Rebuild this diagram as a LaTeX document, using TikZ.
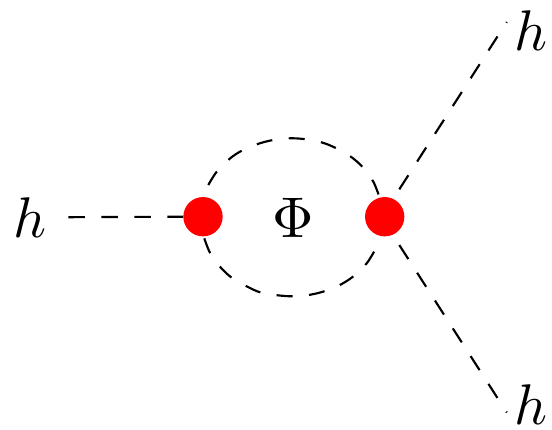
\documentclass[tikz,border=0pt]{standalone}
\tikzset{
  vtx/.style={circle,fill=red,draw=none,minimum size=29.5pt,inner sep=0pt},
  lab/.style={inner sep=0pt,scale=4.3},
  scal/.style={black,line width=1.6pt,dash pattern=on 12.5pt off 12.25pt},
  loopline/.style={black,line width=1.6pt,dash pattern=on 12pt off 12.4pt},
}
\begin{document}
\begin{tikzpicture}[x=0.75pt,y=-0.75pt]
\useasboundingbox (0,0) rectangle (552,429);
\node[lab] (h1) at (30,218) {$h$};
\node[lab] (h2) at (531,31) {$h$};
\node[lab] (h3) at (531,404.5) {$h$};
\node[lab] (phi) at (293.5,217.5) {$\Phi$};
\coordinate (a) at (68.3,217.2);
\coordinate (b) at (506.8,22);
\coordinate (c) at (506.8,412.5);
\coordinate (bs) at (399.3,189.3);
\coordinate (cs) at (399.3,245);
\coordinate (ua) at (208.3,185);
\coordinate (ub) at (379.3,196.7);
\coordinate (la) at (204.3,238.3);
\coordinate (lb) at (375,250);
\node[vtx] (v1) at (203,216.7) {};
\node[vtx] (v2) at (384.7,216.7) {};
\draw[scal] (a) -- (v1.west);
\draw[scal] (bs) -- (b);
\draw[scal] (cs) -- (c);
\draw[loopline] plot[smooth,tension=0.6] coordinates {(ua) (216.7,171.7) (229,159.3) (241.7,150.7) (257.7,144) (273.3,140) (290,138.3) (306,139.3) (322.7,142.7) (337.7,149) (351.7,157.3) (363.7,168.3) (373.3,181.7) (ub)};
\draw[loopline] plot[smooth,tension=0.6] coordinates {(la) (210,252.7) (220,266.7) (231.7,277.7) (246,286) (261.3,292.7) (277.7,295.3) (293.7,296.3) (310.3,294.7) (326,290.7) (341.7,284) (355,275) (366.7,263.3) (lb)};
\end{tikzpicture}
\end{document}
